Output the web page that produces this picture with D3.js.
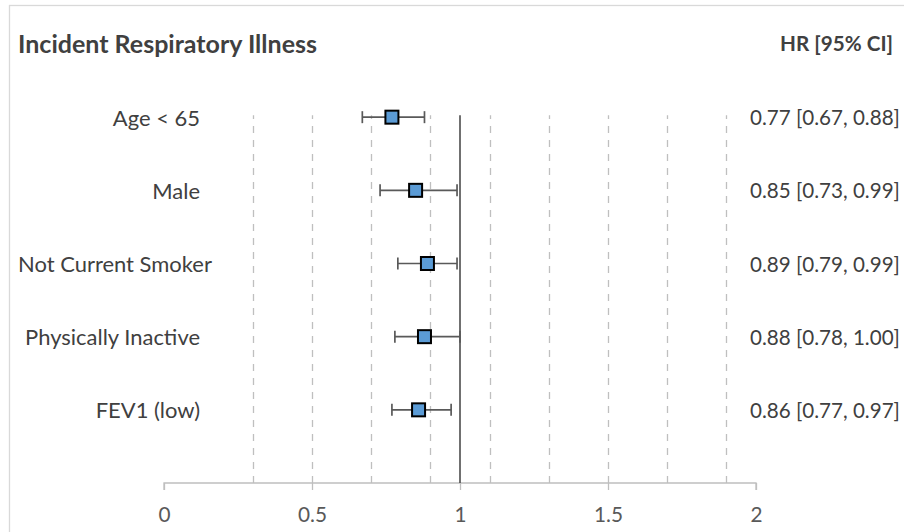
<!DOCTYPE html>
<html>
<head>
<meta charset="utf-8">
<script src="https://cdn.jsdelivr.net/npm/d3@7/dist/d3.min.js"></script>
<style>
  html, body { margin: 0; padding: 0; background: #fff; overflow: hidden; }
  svg { display: block; }
</style>
</head>
<body>
<svg id="chart" width="904" height="532"></svg>
<script>
// ---- data ----
const categories = ["Age < 65", "Male", "Not Current Smoker", "Physically Inactive", "FEV1 (low)"];
const hrValues   = [0.77, 0.85, 0.89, 0.88, 0.86];
const ciLower    = [0.67, 0.73, 0.79, 0.78, 0.77];
const ciUpper    = [0.88, 0.99, 0.99, 1.00, 0.97];
const xTickValues = [0, 0.5, 1, 1.5, 2];
const gridValues  = [0.3, 0.5, 0.7, 0.9, 1.1, 1.3, 1.5, 1.7, 1.9];
const referenceValue = 1;
const titleText  = "Incident Respiratory Illness";
const headerText = "HR [95% CI]";

// ---- layout ----
const FONT = "Lato, 'Open Sans', sans-serif";
const textColor = "#404040";
const svg = d3.select("#chart");

const x = d3.scaleLinear().domain([0, 2]).range([164, 756]);
const rowPos = categories.map((d, i) => categories.length - i); // 5..1
const y = d3.scaleLinear().domain([0, 6]).range([483, 44]);

// helper: measure text width
const meas = svg.append("text").attr("font-family", FONT).attr("x", -1000).attr("y", -1000);
function widthOf(str, size, weight) {
  meas.attr("font-size", size).attr("font-weight", weight || "normal").text(str);
  return meas.node().getComputedTextLength();
}
function fitSize(str, target, weight) {
  return 20 * target / widthOf(str, 20, weight);
}

const labelSize  = fitSize("Not Current Smoker", 194);
const valueSize  = fitSize("0.85 [0.73, 0.99]", 150);
const titleSize  = fitSize(titleText, 299, "bold");
const headerSize = fitSize(headerText, 113, "bold");
const tickSize   = fitSize("0.5", 29);

// chart border
svg.append("rect")
  .attr("x", 9.5).attr("y", 5.5).attr("width", 2000).attr("height", 2000)
  .attr("fill", "none").attr("stroke", "#d9d9d9").attr("stroke-width", 1.3);

// dashed vertical gridlines (drawn bottom-up)
svg.append("g").selectAll("line").data(gridValues).join("line")
  .attr("x1", d => Math.round(x(d)) + 0.5).attr("x2", d => Math.round(x(d)) + 0.5)
  .attr("y1", y(0)).attr("y2", y(5) - 2)
  .attr("stroke", "#bfbfbf").attr("stroke-width", 1.3)
  .attr("stroke-dasharray", "7,7");

// x axis
const axis = d3.axisBottom(x).tickValues(xTickValues).tickSize(7).tickPadding(10)
  .tickFormat(d3.format("~g"));
const gAxis = svg.append("g").attr("transform", `translate(0,${y(0)})`).call(axis);
gAxis.select(".domain").attr("stroke", "#bfbfbf").attr("stroke-width", 1.3)
  .attr("d", `M${x(0)},7V0H${x(2)}V7`);
gAxis.selectAll(".tick line").attr("stroke", "#bfbfbf").attr("stroke-width", 1.3);
gAxis.selectAll(".tick text")
  .attr("font-family", FONT).attr("font-size", tickSize).attr("fill", "#595959")
  .attr("y", 0).attr("dy", null)
  .attr("transform", `translate(0,31)`)
  .attr("dominant-baseline", "central");

// reference line at 1
svg.append("line")
  .attr("x1", x(referenceValue)).attr("x2", x(referenceValue))
  .attr("y1", y(0)).attr("y2", y(5) - 2)
  .attr("stroke", "#404040").attr("stroke-width", 1.5);

// rows
const rows = categories.map((c, i) => ({
  cat: c, hr: hrValues[i], lo: ciLower[i], hi: ciUpper[i], pos: rowPos[i]
}));

const gErr = svg.append("g");
gErr.selectAll("line.err").data(rows).join("line").attr("class", "err")
  .attr("x1", d => x(d.lo)).attr("x2", d => x(d.hi))
  .attr("y1", d => y(d.pos)).attr("y2", d => y(d.pos))
  .attr("stroke", "#595959").attr("stroke-width", 1.7);
["lo", "hi"].forEach(k => {
  gErr.selectAll("line.cap-" + k).data(rows).join("line").attr("class", "cap-" + k)
    .attr("x1", d => x(d[k])).attr("x2", d => x(d[k]))
    .attr("y1", d => y(d.pos) - 6).attr("y2", d => y(d.pos) + 6)
    .attr("stroke", "#595959").attr("stroke-width", 1.7);
});

const ms = 13;
svg.append("g").selectAll("rect").data(rows).join("rect")
  .attr("x", d => x(d.hr) - ms / 2).attr("y", d => y(d.pos) - ms / 2)
  .attr("width", ms).attr("height", ms)
  .attr("fill", "#5b9bd5").attr("stroke", "#000").attr("stroke-width", 2);

// category labels (right aligned, kept inside the chart area)
svg.append("g").selectAll("text").data(rows).join("text")
  .attr("font-family", FONT).attr("font-size", labelSize).attr("fill", textColor)
  .attr("text-anchor", "start")
  .attr("dominant-baseline", "central")
  .attr("y", d => y(d.pos))
  .text(d => d.cat)
  .attr("x", function () {
    const w = this.getComputedTextLength();
    return Math.max(18, 200 - w);
  });

// value labels
const f = d3.format(".2f");
svg.append("g").selectAll("text").data(rows).join("text")
  .attr("font-family", FONT).attr("font-size", valueSize).attr("fill", textColor)
  .attr("x", 750).attr("y", d => y(d.pos))
  .attr("dominant-baseline", "central")
  .text(d => `${f(d.hr)} [${f(d.lo)}, ${f(d.hi)}]`);

// title & header
svg.append("text")
  .attr("font-family", FONT).attr("font-size", titleSize).attr("font-weight", "bold")
  .attr("fill", textColor).attr("x", 18).attr("y", 43)
  .attr("dominant-baseline", "central")
  .text(titleText);
svg.append("text")
  .attr("font-family", FONT).attr("font-size", headerSize).attr("font-weight", "bold")
  .attr("fill", textColor).attr("x", 893).attr("y", 43).attr("text-anchor", "end")
  .attr("dominant-baseline", "central")
  .text(headerText);

meas.remove();
</script>
</body>
</html>
